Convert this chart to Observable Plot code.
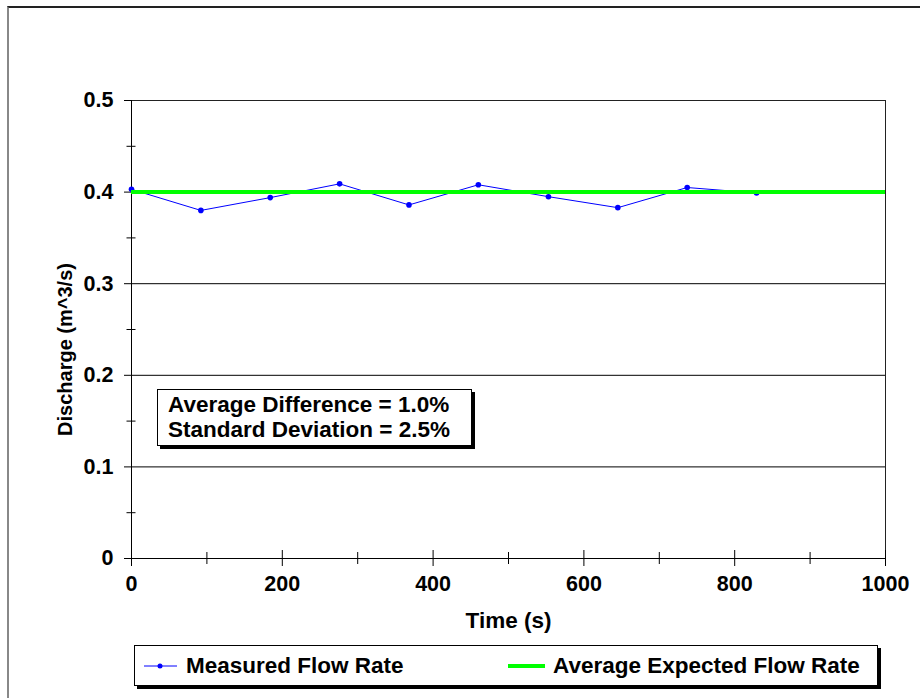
<!DOCTYPE html>
<html>
<head>
<meta charset="utf-8">
<script src="https://cdn.jsdelivr.net/npm/d3@7"></script>
<script src="https://cdn.jsdelivr.net/npm/@observablehq/plot@0.6"></script>
<style>
  html, body { margin: 0; padding: 0; background: #fff; }
  #wrap { position: relative; width: 920px; height: 698px; overflow: hidden; background: #fff;
          font-family: "Liberation Sans", Arial, sans-serif; font-weight: bold; color: #000; }
  #outer { position: absolute; left: 7px; top: 6px; width: 940px; height: 720px;
           border-top: 2px solid #222; border-left: 2px solid #888; box-sizing: border-box; pointer-events: none; }
  #chart { position: absolute; left: 0; top: 0; }
  .box { position: absolute; background: #fff; border: 1px solid #000; box-shadow: 3px 3px 0 #000; box-sizing: border-box; }
  #stats { left: 157px; top: 389px; width: 315px; height: 57px; font-size: 22.5px; line-height: 25px; padding: 2px 0 0 10px; white-space: nowrap; }
  #legend { left: 134px; top: 645px; width: 744px; height: 41px; font-size: 22.5px; white-space: nowrap; }
  .lt { position: absolute; top: 8px; line-height: 24px; }
  .key { position: absolute; }
</style>
</head>
<body>
<div id="wrap">
  <div id="outer"></div>
  <div id="chart"></div>
  <div id="stats" class="box"></div>
  <div id="legend" class="box"></div>
</div>
<script>
// ---- data ----
const times = [0, 92, 184, 276, 368, 460, 553, 645, 737, 829];
const measuredFlow = [0.403, 0.380, 0.394, 0.409, 0.386, 0.408, 0.395, 0.383, 0.405, 0.399];
const expectedFlow = [0.4];
const xMajorTicks = [0, 200, 400, 600, 800, 1000];
const xMinorTicks = [100, 300, 500, 700, 900];
const yMajorTicks = [0, 0.1, 0.2, 0.3, 0.4, 0.5];
const yMinorTicks = [0.05, 0.15, 0.25, 0.35, 0.45];
const gridValues = [0.1, 0.2, 0.3, 0.4];
const seriesNames = ["Measured Flow Rate", "Average Expected Flow Rate"];
const statsLines = ["Average Difference = 1.0%", "Standard Deviation = 2.5%"];
const xTitle = "Time (s)";
const yTitle = "Discharge (m^3/s)";

const measured = times.map((t, i) => ({time: t, flow: measuredFlow[i]}));

const font = "'Liberation Sans', Arial, sans-serif";
const chart = Plot.plot({
  width: 920,
  height: 698,
  marginLeft: 131,
  marginRight: 35,
  marginTop: 100,
  marginBottom: 140,
  style: {fontFamily: font, fontWeight: "bold", fontSize: "21px", color: "#000", background: "transparent"},
  x: {type: "linear", domain: [0, 1000], axis: null},
  y: {type: "linear", domain: [0, 0.5], axis: null},
  marks: [
    Plot.ruleY(gridValues, {stroke: "#000", strokeWidth: 1}),
    Plot.frame({stroke: "#222", strokeWidth: 1}),
    Plot.ruleX([0], {stroke: "#000"}),
    Plot.ruleY([0], {stroke: "#000"}),
    Plot.axisY(yMajorTicks, {anchor: "left", tickSize: 7, tickPadding: 11, tickFormat: d => d === 0 ? "0" : d3.format(".1f")(d), fontSize: 21.5, fontWeight: "bold", label: null}),
    Plot.axisY(yMinorTicks, {anchor: "left", tickSize: 9, dx: 4.5, fill: "none", label: null}),
    Plot.axisX(xMajorTicks, {anchor: "bottom", tickSize: 16, dy: -8, tickPadding: 9.5, tickFormat: d => String(d), fontSize: 21.5, fontWeight: "bold", label: null}),
    Plot.axisX(xMinorTicks, {anchor: "bottom", tickSize: 12, dy: -6, fill: "none", label: null}),
    Plot.line(measured, {x: "time", y: "flow", stroke: "#0000ff", strokeWidth: 1}),
    Plot.dot(measured, {x: "time", y: "flow", r: 2.8, fill: "#0000ff", stroke: "none"}),
    Plot.ruleY(expectedFlow, {stroke: "#00ff00", strokeWidth: 4}),
    Plot.text([yTitle], {frameAnchor: "left", dx: -66, dy: 20, rotate: -90, text: d => d, fontSize: 20, fontWeight: "bold", textAnchor: "middle", lineAnchor: "middle"}),
    Plot.text([xTitle], {frameAnchor: "bottom", dy: 62, text: d => d, fontSize: 22.5, fontWeight: "bold", textAnchor: "middle", lineAnchor: "middle"})
  ]
});
document.getElementById("chart").appendChild(chart);

// stats box
const stats = document.getElementById("stats");
statsLines.forEach(s => { const d = document.createElement("div"); d.textContent = s; stats.appendChild(d); });

// legend
const legend = document.getElementById("legend");
function add(html) { legend.insertAdjacentHTML("beforeend", html); }
// legend positions relative to box (box left = 134, top = 645)
add(`<svg class="key" style="left:9px;top:14px" width="36" height="12"><line x1="0" y1="6" x2="33" y2="6" stroke="#0000ff" stroke-width="1"/><circle cx="16" cy="6" r="2.5" fill="#0000ff"/></svg>`);
add(`<span class="lt" style="left:51px"></span>`);
add(`<svg class="key" style="left:373px;top:14px" width="40" height="12"><line x1="0" y1="6" x2="37" y2="6" stroke="#00ff00" stroke-width="4"/></svg>`);
add(`<span class="lt" style="left:418px"></span>`);
const spans = legend.querySelectorAll(".lt");
spans[0].textContent = seriesNames[0];
spans[1].textContent = seriesNames[1];
</script>
</body>
</html>
